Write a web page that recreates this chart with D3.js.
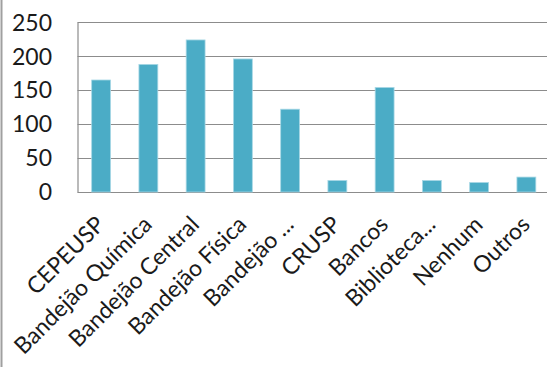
<!DOCTYPE html>
<html><head><meta charset="utf-8">
<script src="https://cdn.jsdelivr.net/npm/d3@7/dist/d3.min.js"></script>
<style>body{margin:0;background:#fff}svg{display:block}text{font-family:Lato,sans-serif;fill:#1a1a1a}</style>
</head><body>
<script>
const categories = ["CEPEUSP","Bandejão Química","Bandejão Central","Bandejão Física","Bandejão ...","CRUSP","Bancos","Biblioteca...","Nenhum","Outros"];
const values = [165,188,224,196,122,17,154,17,14,22];
const yTicks = [0,50,100,150,200,250];

const W=547,H=367;
const svg=d3.select("body").append("svg").attr("width",W).attr("height",H);
svg.append("line").attr("x1",1.5).attr("x2",1.5).attr("y1",0).attr("y2",H).attr("stroke","#a0a0a0").attr("stroke-width",2);

const x=d3.scaleBand().domain(categories).range([77.5,550]).paddingInner(0.6).paddingOuter(0.3);
const y=d3.scaleLinear().domain([0,250]).range([192,22.3]);

const grid=svg.append("g");
grid.selectAll("line").data(yTicks).join("line")
  .attr("x1",77.5).attr("x2",W).attr("y1",d=>Math.round(y(d))+0.5).attr("y2",d=>Math.round(y(d))+0.5)
  .attr("stroke","#8c8c8c").attr("stroke-width",1.2);
svg.append("line").attr("x1",78).attr("x2",78).attr("y1",Math.round(y(250))+0.5).attr("y2",Math.round(y(0))+0.5).attr("stroke","#8c8c8c").attr("stroke-width",1.2);

svg.append("g").selectAll("rect").data(values).join("rect")
  .attr("x",(d,i)=>x(categories[i])).attr("width",x.bandwidth())
  .attr("y",d=>y(d)).attr("height",d=>y(0)-y(d))
  .attr("fill","#4BACC6").attr("stroke","#a8d8e5").attr("stroke-width",0.8);

svg.append("g").selectAll("text").data(yTicks).join("text")
  .attr("x",52).attr("y",d=>y(d)).attr("dy","0.36em").attr("text-anchor","end")
  .attr("font-size",23).text(d=>d);

svg.append("g").selectAll("text").data(categories).join("text")
  .attr("transform",c=>`translate(${x(c)+x.bandwidth()/2+5},${226}) rotate(-45)`)
  .attr("text-anchor","end").attr("font-size",23).text(c=>c);
</script>
</body></html>
